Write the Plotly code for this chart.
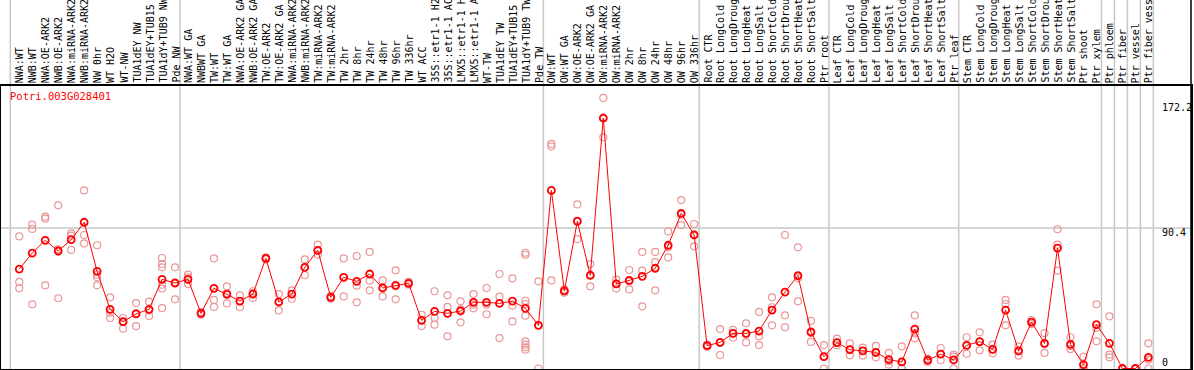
import plotly.graph_objects as go

title_text = "Potri.003G028401"

categories = [
    "NWA:WT", "NWB:WT", "NWA:OE-ARK2", "NWB:OE-ARK2", "NWA:miRNA-ARK2", "NWB:miRNA-ARK2",
    "NW 0hr", "WT H2O", "WT-NW", "TUA1dEY NW", "TUA1dEY+TUB15 NW", "TUA1dY+TUB9 NW", "Pde NW",
    "NWA:WT GA", "NWBWT GA", "TW:WT", "TW:WT GA", "NWA:OE-ARK2 GA", "NWB:OE-ARK2 GA",
    "TW:OE-ARK2", "TW:OE-ARK2 GA", "NWA:miRNA-ARK2", "NWB:miRNA-ARK2", "TW:miRNA-ARK2",
    "TW:miRNA-ARK2", "TW 2hr", "TW 8hr", "TW 24hr", "TW 48hr", "TW 96hr", "TW 336hr",
    "WT ACC", "35S::etr1-1 H2O", "35S::etr1-1 ACC", "LMX5::etr1-1 H2O", "LMX5::etr1-1 ACC",
    "WT-TW", "TUA1dEY TW", "TUA1dEY+TUB15 TW", "TUA1dY+TUB9 TW", "Pde TW",
    "OW:WT", "OW:WT GA", "OW:OE-ARK2", "OW:OE-ARK2 GA", "OW:miRNA-ARK2", "OW:miRNA-ARK2",
    "OW 2hr", "OW 8hr", "OW 24hr", "OW 48hr", "OW 96hr", "OW 336hr",
    "Root CTR", "Root LongCold", "Root LongDrought", "Root LongHeat", "Root LongSalt",
    "Root ShortCold", "Root ShortDrought", "Root ShortHeat", "Root ShortSalt", "Ptr root",
    "Leaf CTR", "Leaf LongCold", "Leaf LongDrought", "Leaf LongHeat", "Leaf LongSalt",
    "Leaf ShortCold", "Leaf ShortDrought", "Leaf ShortHeat", "Leaf ShortSalt", "Ptr leaf",
    "Stem CTR", "Stem LongCold", "Stem LongDrought", "Stem LongHeat", "Stem LongSalt",
    "Stem ShortCold", "Stem ShortDrought", "Stem ShortHeat", "Stem ShortSalt", "Ptr shoot",
    "Ptr xylem", "Ptr phloem", "Ptr fiber", "Ptr vessel", "Ptr fiber vessel",
]

means = [
    64.0, 74.3, 82.5, 75.6, 82.9, 94.1, 62.5, 38.1, 30.1, 35.1, 38.1, 57.4, 55.0,
    57.4, 35.5, 51.6, 47.7, 43.4, 47.9, 70.9, 42.8, 47.9, 65.1, 76.0, 45.8, 58.7,
    56.1, 60.8, 51.8, 53.5, 54.8, 31.0, 36.8, 35.5, 37.0, 42.6, 42.6, 41.9, 43.4,
    38.7, 27.8,
    114.6, 49.9, 94.7, 60.0, 161.2, 54.4, 56.7, 59.3, 64.5, 79.3, 99.8, 85.9,
    14.7, 16.8, 22.6, 22.6, 24.1, 37.6, 49.2, 59.7, 23.5, 7.6,
    16.6, 12.1, 11.3, 10.4, 5.7, 4.2, 25.4, 5.3, 9.3, 5.5,
    14.9, 17.3, 12.3, 37.6, 11.3, 29.9, 16.2, 77.5, 15.5, 2.5, 28.2,
    16.2, 0.0, 0.0, 7.2,
]

replicates = [
    [85.0, 55.7, 51.6], [92.6, 89.8, 41.3], [97.7, 96.4, 53.5], [105.0, 76.7, 45.2],
    [87.0, 85.5, 76.3], [114.6, 85.9, 80.5], [79.3, 60.4, 58.7, 53.5], [45.8, 35.9, 32.5],
    [32.5, 29.9, 25.6], [42.1, 35.5, 27.3], [43.0, 37.4, 33.8],
    [71.1, 67.2, 65.1, 53.9, 51.4, 38.9], [65.1, 55.4, 44.5],
    [60.4, 58.7, 54.4], [36.4, 35.5, 34.6], [70.9, 44.1, 39.6], [52.9, 48.4, 41.9],
    [47.1, 43.2, 39.4], [49.7, 48.6, 45.4], [71.5, 70.9, 70.2], [47.9, 43.0, 37.4],
    [50.3, 47.9, 44.9], [70.2, 65.1, 60.0], [79.7, 76.0, 73.2], [46.7, 45.8, 44.9],
    [70.9, 58.7, 46.4], [72.4, 53.3, 42.6], [75.0, 56.5, 50.3], [56.7, 52.2, 46.4],
    [63.2, 52.9, 44.5], [55.7, 54.8, 53.9], [34.6, 31.0, 27.3], [49.7, 32.5, 28.2],
    [47.1, 39.6, 20.7], [43.2, 38.1, 29.7], [47.9, 41.1, 38.7], [51.8, 41.1, 34.9],
    [60.8, 46.2, 19.6], [58.0, 40.4, 30.3],
    [74.5, 73.2, 43.6, 41.5, 34.0, 17.5, 15.3, 13.6, 12.1], [56.1, 27.8, 0.0],
    [144.5, 143.0, 56.7], [50.9, 49.9, 48.8], [105.6, 95.1, 83.3], [67.2, 59.7, 52.9],
    [174.1, 160.8, 148.8], [57.2, 54.4, 51.4], [63.4, 56.1, 50.9], [75.0, 63.0, 40.0],
    [75.0, 68.5, 50.3], [88.3, 78.0, 71.5], [108.4, 98.8, 92.3], [93.0, 86.1, 78.6],
    [15.3, 14.7, 14.0], [25.4, 16.4, 8.7], [24.8, 22.6, 19.8], [29.1, 22.0, 16.8],
    [36.4, 20.7, 15.1], [45.8, 39.4, 27.8], [85.9, 34.2, 26.5], [78.0, 58.2, 43.2],
    [30.6, 22.8, 17.1], [15.1, 7.6, 0.0],
    [19.2, 16.6, 14.9], [16.2, 12.1, 8.5], [13.4, 11.3, 8.3], [14.5, 10.0, 7.2],
    [10.0, 4.6, 2.5], [14.3, 0.0, 0.0], [34.2, 22.6, 19.4], [6.3, 5.3, 4.2],
    [13.2, 9.3, 5.3], [8.9, 7.6, 0.0],
    [20.1, 14.9, 9.5], [23.3, 17.1, 11.7], [15.3, 12.3, 9.8], [44.1, 41.5, 27.8],
    [14.3, 11.1, 8.3], [31.2, 29.9, 28.6], [22.8, 15.8, 10.0], [89.6, 79.7, 63.0],
    [20.1, 14.5, 12.5], [7.6, 0.0, 0.0], [41.3, 26.1, 17.5],
    [33.6, 8.9, 7.2], [0.0, 0.0, 0.0], [0.0, 0.0, 0.0], [16.2, 5.7, 0.0],
]

group_sizes = [13, 28, 12, 10, 10, 11, 1, 1, 1, 1]
axis_labels = ["172.2", "90.4", "0"]

# ---------------- layout geometry ----------------
W, H = 1194, 370
L, R, T, B = 1, 1, 86, 1
plot_w = W - L - R
plot_h = H - T - B
px_per_cat = 13.0
first_px = 19.3
x0 = -(first_px - L) / px_per_cat
x1 = x0 + plot_w / px_per_cat
zero_px = 368.5
px_per_unit = 1.554
y0 = -(H - B - zero_px) / px_per_unit
y1 = (zero_px - T) / px_per_unit

FONT = "DejaVu Sans Mono"
RED = "#ff0000"
PINK = "rgb(234,150,150)"
GRID = "rgb(200,200,200)"

xs = list(range(len(categories)))
rx, ry = [], []
for i, reps in enumerate(replicates):
    for v in reps:
        rx.append(i)
        ry.append(v)

fig = go.Figure()
fig.add_trace(go.Scatter(
    x=rx, y=ry, mode="markers",
    marker=dict(symbol="circle-open", size=7, color=PINK, line=dict(width=1.2, color=PINK)),
    hoverinfo="skip", showlegend=False, cliponaxis=True,
))
fig.add_trace(go.Scatter(
    x=xs, y=means, mode="lines+markers",
    line=dict(color=RED, width=1),
    marker=dict(symbol="circle-open", size=7, color=RED, line=dict(width=1.8, color=RED)),
    showlegend=False, cliponaxis=True,
))

shapes = []
top_paper = 1 + T / plot_h + 0.01
bot_paper = -B / plot_h - 0.01
bounds = [-0.69]
acc = 0
for g in group_sizes:
    acc += g
    bounds.append(acc - 1 + 5 / px_per_cat)
for b in bounds:
    shapes.append(dict(type="line", xref="x", yref="paper", x0=b, x1=b,
                       y0=bot_paper, y1=top_paper, line=dict(color=GRID, width=1.5), layer="below"))
shapes.append(dict(type="line", xref="paper", yref="y", x0=0, x1=1, y0=90.4, y1=90.4,
                   line=dict(color=GRID, width=1.5), layer="below"))
shapes.append(dict(type="line", xref="paper", yref="paper", x0=1, x1=1, y0=0, y1=top_paper,
                   line=dict(color="black", width=1.5)))

annotations = []
label_bottom = (H - B - 84) / plot_h
for i, c in enumerate(categories):
    annotations.append(dict(
        x=i, xref="x", y=label_bottom, yref="paper", text=c, showarrow=False,
        textangle=-90, xanchor="center", yanchor="bottom", borderpad=0, xshift=1,
        font=dict(family=FONT, size=10, color="black"),
    ))
label_centers_px = [107, 232.7, 362]
for t, cy in zip(axis_labels, label_centers_px):
    annotations.append(dict(
        x=(1163 - L) / plot_w, xref="paper", y=(H - B - cy) / plot_h, yref="paper",
        text=t, showarrow=False, xanchor="left", yanchor="middle", borderpad=0,
        font=dict(family=FONT, size=10, color="black"),
    ))
annotations.append(dict(
    x=(9.3 - L) / plot_w, xref="paper", y=(H - B - 96.3) / plot_h, yref="paper",
    text=title_text, showarrow=False, xanchor="left", yanchor="middle", borderpad=0,
    font=dict(family=FONT, size=10.5, color=RED),
))

fig.update_layout(
    width=W, height=H,
    margin=dict(l=L, r=R, t=T, b=B, pad=0),
    paper_bgcolor="white", plot_bgcolor="white",
    xaxis=dict(range=[x0, x1], showgrid=False, zeroline=False, showticklabels=False,
               ticks="", showline=True, mirror=True, linecolor="black", linewidth=1.5),
    yaxis=dict(range=[y0, y1], showgrid=False, zeroline=False, showticklabels=False,
               ticks="", showline=True, mirror=True, linecolor="black", linewidth=1.5),
    shapes=shapes, annotations=annotations,
    showlegend=False,
)

fig.write_html(
    "out.html",
    config={"displayModeBar": False},
    post_script="document.body.style.margin='0';document.body.style.overflow='hidden';",
)
